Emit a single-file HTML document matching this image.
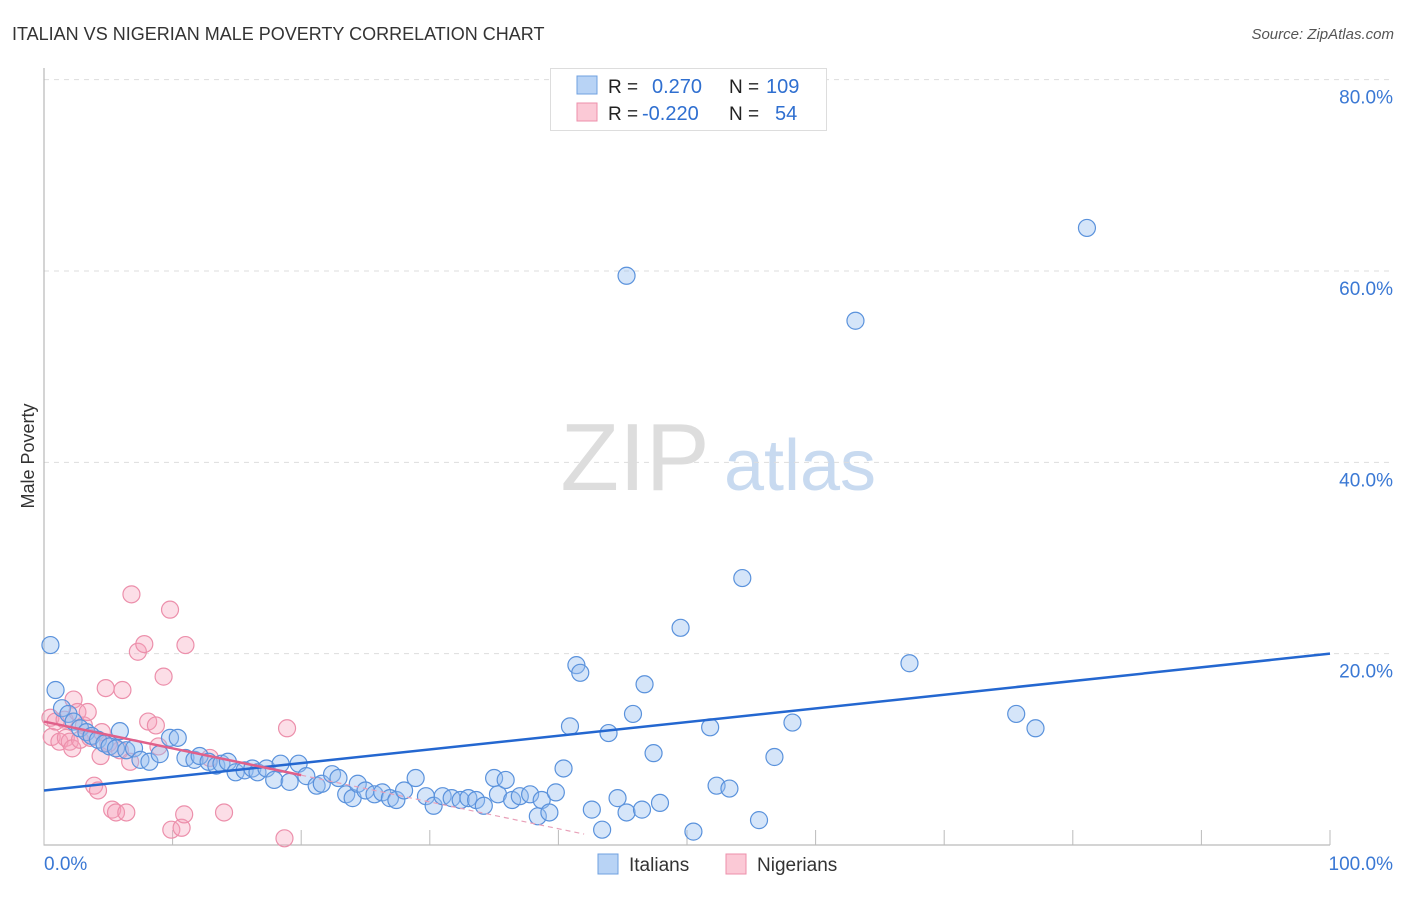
<!DOCTYPE html>
<html><head><meta charset="utf-8"><style>
body{margin:0;background:#fff;font-family:"Liberation Sans",sans-serif;}
svg text{font-family:"Liberation Sans",sans-serif;}
</style></head><body>
<svg id="chart" width="1406" height="892" xmlns="http://www.w3.org/2000/svg">
<text x="12" y="40" font-size="18" fill="#333">ITALIAN VS NIGERIAN MALE POVERTY CORRELATION CHART</text>
<text x="1394" y="39" font-size="15" fill="#555" font-style="italic" text-anchor="end">Source: ZipAtlas.com</text>
<text x="34" y="456" font-size="18" fill="#333" text-anchor="middle" transform="rotate(-90 34 456)">Male Poverty</text>
<g><text x="635" y="490" font-size="96" fill="#ddd" font-family="Liberation Serif" text-anchor="middle">ZIP</text><text x="800" y="490" font-size="72" fill="#c8daf0" text-anchor="middle">atlas</text></g>
<g id="grid"></g><g id="axes"></g><g id="pts"></g><g id="trend"></g>
<g>
<rect x="550.5" y="68.5" width="276" height="62" fill="#fff" stroke="#ddd"/>
<rect x="577" y="76" width="20" height="18" fill="#b8d3f5" stroke="#6fa0e0"/>
<rect x="577" y="103" width="20" height="18" fill="#fbc9d6" stroke="#ec8fab"/>
<text x="608" y="93" font-size="19" fill="#222">R =</text><text x="652" y="93" font-size="20" fill="#2f6fd0">0.270</text>
<text x="729" y="93" font-size="19" fill="#222">N =</text><text x="766" y="93" font-size="20" fill="#2f6fd0">109</text>
<text x="608" y="120" font-size="19" fill="#222">R =</text><text x="642" y="120" font-size="20" fill="#2f6fd0">-0.220</text>
<text x="729" y="120" font-size="19" fill="#222">N =</text><text x="775" y="120" font-size="20" fill="#2f6fd0">54</text>
</g>
<g>
<rect x="598" y="854" width="20" height="20" fill="#b8d3f5" stroke="#6fa0e0"/><text x="629" y="871" font-size="19" fill="#333">Italians</text>
<rect x="726" y="854" width="20" height="20" fill="#fbc9d6" stroke="#ec8fab"/><text x="757" y="871" font-size="19" fill="#333">Nigerians</text>
</g>
</svg>
<script>
const yTicks=[20,40,60,80];
const xTickLabels=["0.0%","100.0%"];
const blueX=[0.5,0.9,1.4,1.9,2.3,2.8,3.3,3.7,4.2,4.7,5.1,5.6,5.9,6.4,7.0,7.5,8.2,9.0,9.8,10.4,11.0,11.7,12.1,12.8,13.4,13.8,14.3,14.9,15.6,16.2,16.6,17.3,17.9,18.4,19.1,19.8,20.4,21.2,21.6,22.4,22.9,23.5,24.0,24.4,25.0,25.7,26.3,26.9,27.4,28.0,28.9,29.7,30.3,31.0,31.7,32.4,33.0,33.6,34.2,35.0,35.3,35.9,36.4,37.0,37.8,38.4,38.7,39.3,39.8,40.4,40.9,41.4,41.7,42.6,43.4,43.9,44.6,45.3,45.3,45.8,46.5,46.7,47.4,47.9,49.5,50.5,51.8,52.3,53.3,54.3,55.6,56.8,58.2,63.1,67.3,75.6,77.1,81.1];
const blueY=[20.9,16.2,14.3,13.7,12.9,12.2,11.8,11.4,11.0,10.6,10.3,10.1,11.9,9.9,10.1,8.9,8.7,9.5,11.2,11.2,9.1,8.9,9.3,8.7,8.3,8.5,8.7,7.6,7.8,8.0,7.6,8.0,6.8,8.5,6.6,8.5,7.2,6.2,6.4,7.4,7.0,5.3,4.9,6.4,5.7,5.3,5.5,4.9,4.7,5.7,7.0,5.1,4.1,5.1,4.9,4.7,4.9,4.7,4.1,7.0,5.3,6.8,4.7,5.1,5.3,3.0,4.7,3.4,5.5,8.0,12.4,18.8,18.0,3.7,1.6,11.7,4.9,3.4,59.5,13.7,3.7,16.8,9.6,4.4,22.7,1.4,12.3,6.2,5.9,27.9,2.6,9.2,12.8,54.8,19.0,13.7,12.2,64.5];
const pinkX=[0.5,0.6,0.9,1.2,1.6,1.7,2.0,2.2,2.3,2.6,2.8,3.1,3.4,3.6,3.9,4.2,4.4,4.5,4.8,5.0,5.3,5.6,5.9,6.1,6.4,6.7,6.8,7.3,7.8,8.1,8.9,9.3,9.8,9.9,10.7,10.9,11.0,14.0,18.7,18.9,12.9,8.7];
const pinkY=[13.3,11.3,12.9,10.8,13.1,11.2,10.8,10.1,15.2,13.9,11.0,12.5,13.9,11.2,6.2,5.7,9.3,11.8,16.4,10.6,3.7,3.4,9.9,16.2,3.4,8.7,26.2,20.2,21.0,12.9,10.3,17.6,24.6,1.6,1.8,3.2,20.9,3.4,0.7,12.2,9.1,12.5];
const blueTrend=[5.7,20.0];
const pinkTrend=[12.9,-0.28];
const X=v=>44+v*12.86, Y=v=>845-v*9.567;
const NS="http://www.w3.org/2000/svg";
function mk(tag,attrs,parent){const e=document.createElementNS(NS,tag);for(const k in attrs)e.setAttribute(k,attrs[k]);document.getElementById(parent).appendChild(e);return e;}
yTicks.forEach(t=>{
 const l=mk('line',{x1:44,x2:1394,y1:Y(t),y2:Y(t),stroke:'#ddd','stroke-dasharray':'5,5'},'grid');
 
 
 const tx=mk('text',{x:1393,y:Y(t)+24,'font-size':19,fill:'#3a78d4','text-anchor':'end'},'grid');
 tx.textContent=t.toFixed(1)+'%';
 
 
});
const ax=mk('path',{d:'M44,68V845H1330',stroke:'#aaa',fill:'none'},'axes');


for(let i=0;i<=10;i++){const t=mk('line',{x1:X(i*10),x2:X(i*10),y1:830,y2:845,stroke:'#bbb'},'axes');
 
 }
xTickLabels.forEach((s,i)=>{const t=mk('text',{x:i?1393:44,y:870,'font-size':19,fill:'#3a78d4','text-anchor':i?'end':'start'},'axes');t.textContent=s;
 
 });
pinkX.forEach((x,i)=>{const c=mk('circle',{cx:X(x),cy:Y(pinkY[i]),r:8.5,fill:'rgba(245,160,185,0.35)',stroke:'#ec8fab','stroke-width':1.2},'pts');
 
 });
blueX.forEach((x,i)=>{const c=mk('circle',{cx:X(x),cy:Y(blueY[i]),r:8.5,fill:'rgba(150,190,240,0.4)',stroke:'#5a92dc','stroke-width':1.2},'pts');
 
 });
const bt=mk('line',{x1:X(0),y1:Y(blueTrend[0]),x2:X(100),y2:Y(blueTrend[1]),stroke:'#2467d0','stroke-width':2.5},'trend');


const pY=x=>pinkTrend[0]+pinkTrend[1]*x;
const pt=mk('line',{x1:X(0),y1:Y(pY(0)),x2:X(20),y2:Y(pY(20)),stroke:'#e0608a','stroke-width':2.5},'trend');


const pd=mk('line',{x1:X(20),y1:Y(pY(20)),x2:X(42),y2:Y(pY(42)),stroke:'#e8a0b8','stroke-width':1.2,'stroke-dasharray':'5,4'},'trend');


</script>
</body></html>
